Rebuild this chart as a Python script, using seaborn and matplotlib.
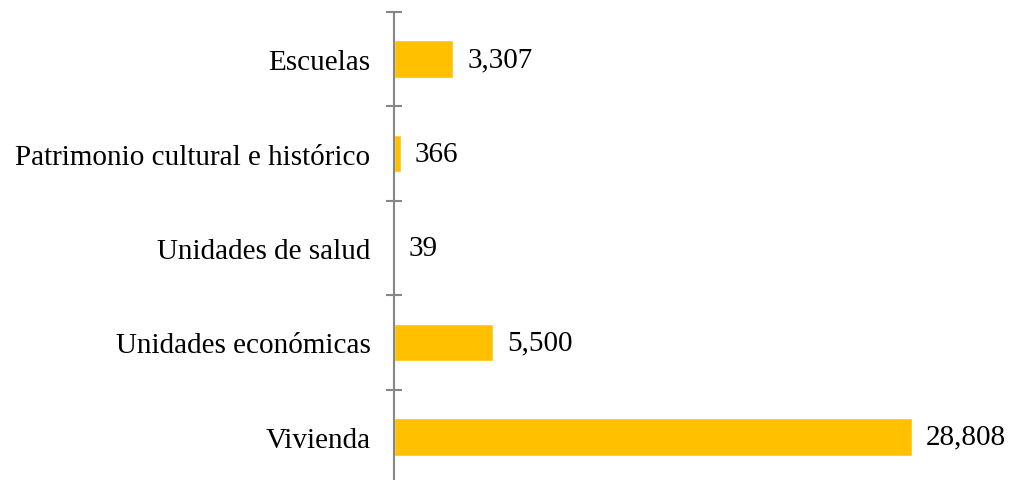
import matplotlib
matplotlib.use('Agg')
import matplotlib.pyplot as plt
import seaborn as sns
import numpy as np

# 数据
categories = ['Escuelas', 'Patrimonio cultural e histórico', 'Unidades de salud',
              'Unidades económicas', 'Vivienda']
values = [3307, 366, 39, 5500, 28808]

sns.set_style('white')
plt.rcParams['font.family'] = ['Liberation Serif', 'DejaVu Serif']
plt.rcParams['text.color'] = 'black'
plt.rcParams['ytick.labelcolor'] = 'black'

fig = plt.figure(figsize=(10.13, 4.81), dpi=100)
ax = fig.add_axes([394 / 1013, -4 / 481, (1013 - 394) / 1013, 472 / 481])

sns.barplot(x=values, y=categories, orient='h', color='#FFC000', saturation=1,
            width=0.4, ax=ax)

ax.set_xlim(0, 34425)
ax.set_ylim(4.5, -0.5)

# 数值标签
for c in ax.containers:
    ax.bar_label(c, labels=[f'{v:,}' for v in values], padding=10,
                 fontsize=21, color='black')

# 坐标轴样式
for s in ['top', 'right', 'bottom']:
    ax.spines[s].set_visible(False)
ax.spines['left'].set_color('#868686')
ax.spines['left'].set_linewidth(1.5)
ax.set_xticks([])
ax.set_xlabel('')
ax.set_ylabel('')
ax.tick_params(axis='y', which='major', left=False, length=0, pad=17,
               labelsize=21, labelcolor='black')
ax.set_yticks(np.arange(-0.5, 5.0, 1.0), minor=True)
ax.tick_params(axis='y', which='minor', left=True, direction='inout',
               length=12, width=1.5, color='#868686')

fig.savefig('out.png', dpi=100)
